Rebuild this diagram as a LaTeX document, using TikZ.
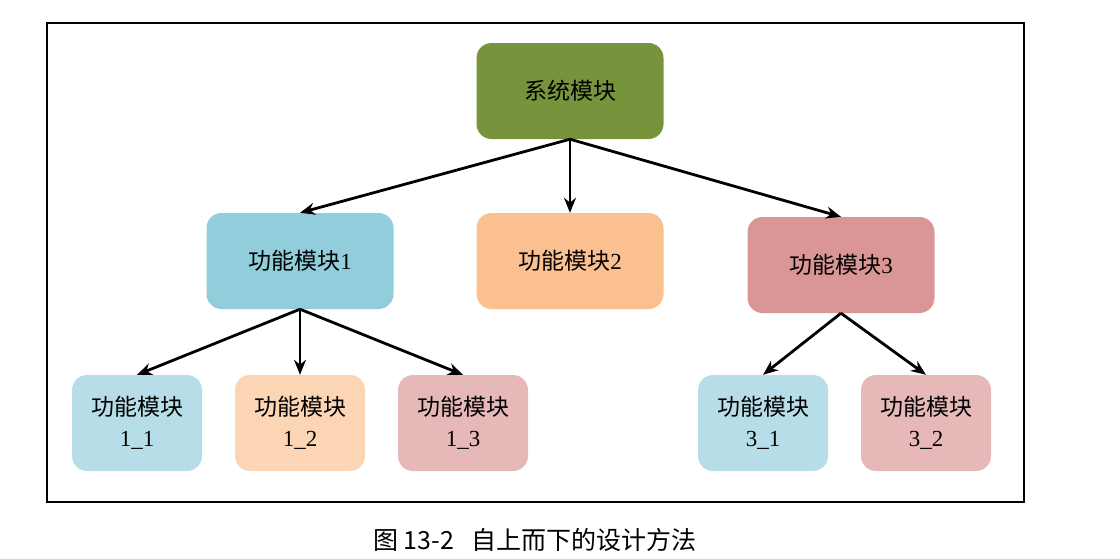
\documentclass[tikz,border=0pt]{standalone}
\usepackage{fontspec}
\setmainfont{Liberation Serif}
\newfontfamily\cjk{Noto Sans CJK SC}
\usetikzlibrary{arrows.meta}
\definecolor{cTop}{HTML}{77933C}
\definecolor{cBlue}{HTML}{92CDDC}
\definecolor{cPeach}{HTML}{FAC090}
\definecolor{cRed}{HTML}{D99694}
\definecolor{cLBlue}{HTML}{B7DEE8}
\definecolor{cLPeach}{HTML}{FCD5B5}
\definecolor{cLRed}{HTML}{E6B9B8}
\tikzset{
  box/.style={rounded corners=15pt, inner sep=0pt, align=center, font=\fontsize{23}{31}\selectfont},
  bigbox/.style={box, minimum width=187pt, minimum height=96pt},
  smallbox/.style={box, minimum width=130pt, minimum height=96pt},
  arr/.style={-{Stealth[length=15pt,width=12pt]}, line width=2.8pt, black},
}
\begin{document}
\begin{tikzpicture}[x=1pt,y=-1pt]
\useasboundingbox (0,0) rectangle (1120,558);
\draw[line width=2.2pt] (47,23) rectangle (1024,502);
\node[bigbox, fill=cTop] (top) at (570,91) {{\cjk 系统模块}};
\node[bigbox, fill=cBlue] (m1) at (300,261) {{\cjk 功能模块}1};
\node[bigbox, fill=cPeach] (m2) at (570,261) {{\cjk 功能模块}2};
\node[bigbox, fill=cRed] (m3) at (841,265) {{\cjk 功能模块}3};
\node[smallbox, fill=cLBlue] (m11) at (137,423) {{\cjk 功能模块}\\1\_1};
\node[smallbox, fill=cLPeach] (m12) at (300,423) {{\cjk 功能模块}\\1\_2};
\node[smallbox, fill=cLRed] (m13) at (463,423) {{\cjk 功能模块}\\1\_3};
\node[smallbox, fill=cLBlue] (m31) at (763,423) {{\cjk 功能模块}\\3\_1};
\node[smallbox, fill=cLRed] (m32) at (926,423) {{\cjk 功能模块}\\3\_2};
\draw[arr] (top.south) -- (m1.north);
\draw[arr] (top.south) -- (m2.north);
\draw[arr] (top.south) -- (m3.north);
\draw[arr] (m1.south) -- (m11.north);
\draw[arr] (m1.south) -- (m12.north);
\draw[arr] (m1.south) -- (m13.north);
\draw[arr] (m3.south) -- (m31.north);
\draw[arr] (m3.south) -- (m32.north);
\node[font=\cjk\fontsize{25}{28}\selectfont] (cap) at (535,540) {图 13-2\hspace{0.7em}自上而下的设计方法};
\end{tikzpicture}
\end{document}
